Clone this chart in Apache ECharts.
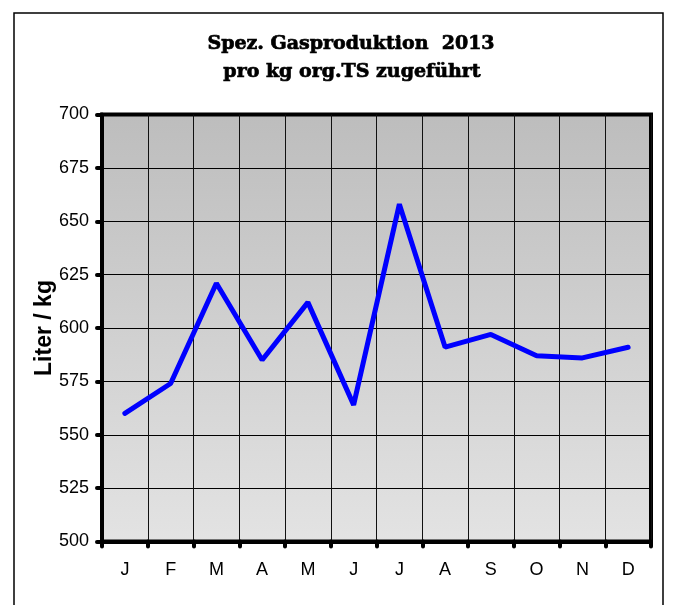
<!DOCTYPE html>
<html>
<head>
<meta charset="utf-8">
<script src="https://cdn.jsdelivr.net/npm/echarts@6/dist/echarts.min.js"></script>
<style>
  html, body { margin: 0; padding: 0; background: #fff; }
  #chart { width: 678px; height: 605px; }
</style>
</head>
<body>
<div id="chart"></div>
<script>
// Monthly specific gas production, litres per kg organic dry matter fed
const months = ['J', 'F', 'M', 'A', 'M', 'J', 'J', 'A', 'S', 'O', 'N', 'D'];
const gasPerKg = [560, 574, 621, 585, 612, 564, 658, 591, 597, 587, 586, 591];
const yMin = 500;
const yMax = 700;
const yStep = 25;
const titleLines = ['Spez. Gasproduktion  2013', 'pro kg org.TS zugeführt'];
const yAxisTitle = 'Liter / kg';

const chart = echarts.init(document.getElementById('chart'), null, { renderer: 'canvas' });

const labelFont = { fontFamily: 'Liberation Sans, Arial, sans-serif', fontSize: 18, color: '#000' };
const titleStyle = {
  textAlign: 'center', textVerticalAlign: 'middle',
  font: 'bold 19px "DejaVu Serif", serif',
  fill: '#000', stroke: '#000', lineWidth: 0.7
};

chart.setOption({
  animation: false,
  backgroundColor: '#fff',
  graphic: [
    {
      type: 'rect',
      silent: true,
      shape: { x: 14, y: 13, width: 649, height: 620 },
      style: { fill: 'none', stroke: '#000', lineWidth: 1.5 },
      z: 0
    },
    {
      type: 'text',
      silent: true,
      style: Object.assign({ x: 351, y: 44, text: titleLines[0] }, titleStyle)
    },
    {
      type: 'text',
      silent: true,
      style: Object.assign({ x: 352, y: 72, text: titleLines[1] }, titleStyle)
    }
  ],
  grid: {
    left: 102,
    right: 27,
    top: 114.5,
    bottom: 63.5,
    show: true,
    borderColor: '#000',
    borderWidth: 4,
    backgroundColor: new echarts.graphic.LinearGradient(0, 0, 0, 1, [
      { offset: 0, color: '#bdbdbd' },
      { offset: 1, color: '#e3e3e3' }
    ])
  },
  xAxis: {
    type: 'category',
    data: months,
    boundaryGap: true,
    axisLine: { show: true, lineStyle: { color: '#000', width: 4 } },
    axisTick: { show: true, length: 5, lineStyle: { color: '#000', width: 4, cap: 'round' } },
    axisLabel: Object.assign({ margin: 20 }, labelFont),
    splitLine: { show: true, lineStyle: { color: '#111', width: 1 } }
  },
  yAxis: {
    type: 'value',
    min: yMin,
    max: yMax,
    interval: yStep,
    name: yAxisTitle,
    nameLocation: 'middle',
    nameGap: 46,
    nameRotate: 90,
    nameMoveOverlap: false,
    nameTextStyle: {
      fontFamily: 'Liberation Sans, Arial, sans-serif',
      fontSize: 23,
      fontWeight: 'bold',
      color: '#000'
    },
    axisLine: { show: true, lineStyle: { color: '#000', width: 4 } },
    axisTick: { show: true, length: 5, lineStyle: { color: '#000', width: 4, cap: 'round' } },
    axisLabel: Object.assign({ margin: 13 }, labelFont),
    splitLine: { show: true, lineStyle: { color: '#000', width: 1 } }
  },
  series: [
    {
      type: 'line',
      data: gasPerKg,
      symbol: 'none',
      smooth: false,
      lineStyle: { color: '#0000ff', width: 5, cap: 'round' },
      z: 3
    }
  ]
});
</script>
</body>
</html>
